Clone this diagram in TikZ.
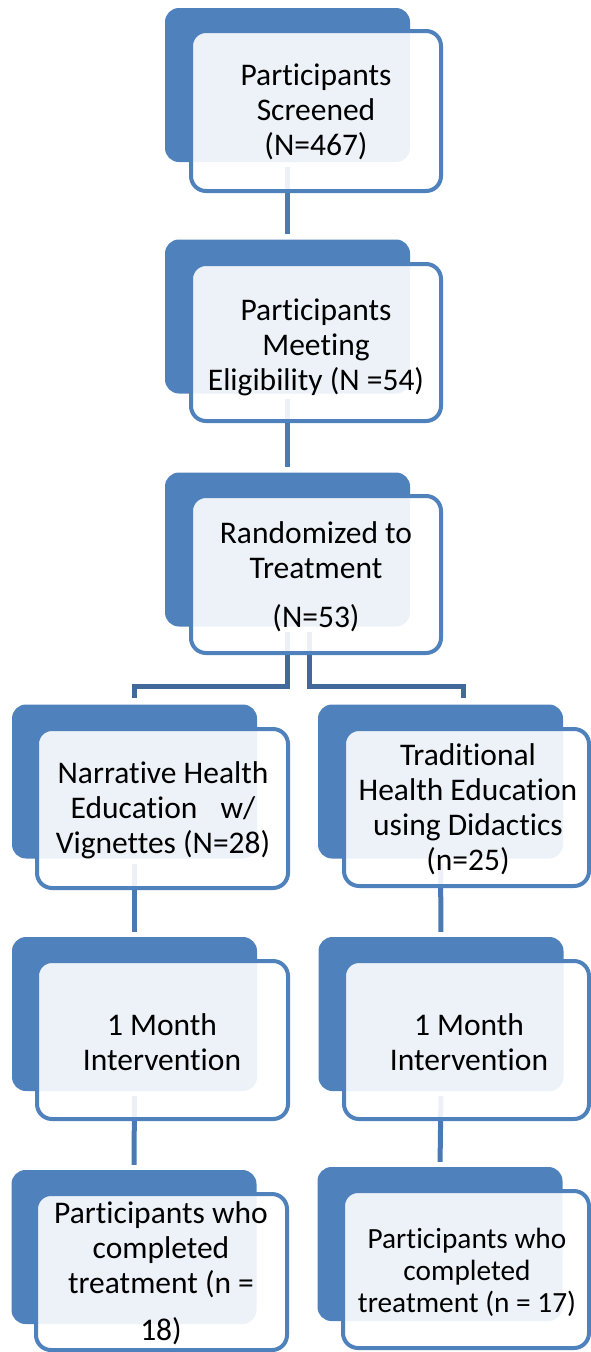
\documentclass[tikz,border=0pt]{standalone}
\usepackage{fontspec}
\setmainfont{Carlito}[RawFeature={-liga;-clig;-calt;-dlig}]
\usetikzlibrary{calc}
\definecolor{accent}{RGB}{79,129,189}
\definecolor{connA}{RGB}{74,122,180}
\definecolor{connB}{RGB}{65,105,155}
\tikzset{
  backbox/.style={fill=accent, draw=none, rounded corners=14pt, minimum width=245pt, minimum height=154pt, inner sep=0pt},
  frontbox/.style={draw=accent, line width=4pt, fill=white, fill opacity=0.9, rounded corners=15pt, inner sep=0pt},
  txt/.style={align=center, inner sep=0pt, text=black, font=\fontsize{31.5}{35}\selectfont},
  txtsmall/.style={align=center, inner sep=0pt, text=black, font=\fontsize{29.3}{32}\selectfont},
  conn/.style={draw=connA, line width=5pt, shorten <=5pt, shorten >=5pt},
  split/.style={draw=connB, line width=5pt, shorten <=5pt, shorten >=6pt},
}
\begin{document}
\begin{tikzpicture}[x=1pt,y=-1pt]
\useasboundingbox (0,0) rectangle (591,1352);
% back boxes
\node[backbox] (b1) at (287.5,85) {};
\node[backbox] (b2) at (287.5,316.5) {};
\node[backbox] (b3) at (287.5,549.5) {};
\node[backbox] (bl1) at (134.5,781.5) {};
\node[backbox] (br1) at (440.5,781.5) {};
\node[backbox] (bl2) at (134.5,1014) {};
\node[backbox] (br2) at (441,1014) {};
\node[backbox] (bl3) at (134,1247) {};
\node[backbox] (br3) at (440,1244) {};
% connectors
\coordinate (hy) at (0,686);
\coordinate (b3r) at ($(b3.south)+(22,0)$);
\coordinate (rdrop) at ($(br1.north)+(22.5,0)$);
\draw[conn] (b1.south) -- (b2.north);
\draw[conn] (b2.south) -- (b3.north);
\draw[split] (b3.south) -- (b3.south |- hy) -| (bl1.north);
\draw[split] (b3r) -- (b3r |- hy) -| (rdrop);
\draw[conn] (bl1.south) -- (bl2.north);
\draw[conn] (bl2.south) -- (bl3.north);
\draw[conn] (br1.south) -- (br2.north);
\draw[conn] (br2.south) -- (br3.north);
% front boxes
\node[frontbox, minimum width=250pt, minimum height=160pt] (f1) at (316,111) {};
\node[frontbox, minimum width=250pt, minimum height=157pt] (f2) at (316,342.5) {};
\node[frontbox, minimum width=250pt, minimum height=157pt] (f3) at (316,574.5) {};
\node[frontbox, minimum width=251pt, minimum height=159pt] (fl1) at (162.5,808.5) {};
\node[frontbox, minimum width=245pt, minimum height=157pt] (fr1) at (466.5,807.5) {};
\node[frontbox, minimum width=251pt, minimum height=158pt] (fl2) at (162.5,1040) {};
\node[frontbox, minimum width=245pt, minimum height=158pt] (fr2) at (466.5,1040) {};
\node[frontbox, minimum width=251pt, minimum height=156pt] (fl3) at (161.5,1272) {};
\node[frontbox, minimum width=246pt, minimum height=157pt] (fr3) at (466,1269.5) {};
% texts
\node[txt] (t1) at (316,112) {Participants\\Screened\\(N=467)};
\node[txt] (t2) at (316,347) {Participants\\Meeting\\Eligibility (N =54)};
\node[txt] (t3) at (316,577) {Randomized to\\Treatment\\[14pt](N=53)};
\node[txt] (tl1) at (163,810) {Narrative Health\\Education\hspace{16pt} w/\\Vignettes (N=28)};
\node[txt] (tr1) at (468,809.5) {Traditional\\Health Education\\using Didactics\\(n=25)};
\node[txt] (tl2) at (162,1042) {1 Month\\Intervention};
\node[txt] (tr2) at (469,1042) {1 Month\\Intervention};
\node[txt] (tl3) at (161,1273.5) {Participants who\\completed\\treatment (n =\\[12pt]18)};
\node[txtsmall] (tr3) at (467,1272) {Participants who\\completed\\treatment (n = 17)};
\end{tikzpicture}
\end{document}
